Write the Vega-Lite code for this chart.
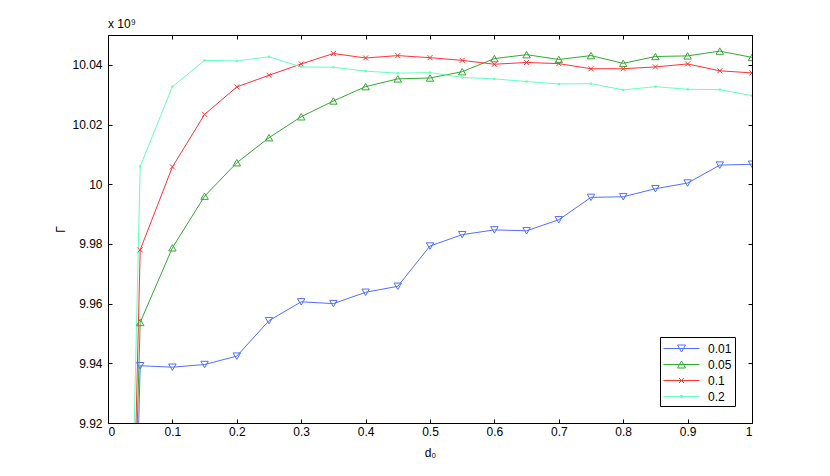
{
  "$schema": "https://vega.github.io/schema/vega-lite/v6.json",
  "width": 644,
  "height": 388,
  "autosize": "none",
  "padding": {"left": 108, "top": 35, "right": 78, "bottom": 53},
  "background": "white",
  "title": {"text": "x 10⁹", "anchor": "start", "frame": "group", "fontSize": 12, "fontWeight": "normal", "font": "Liberation Sans", "color": "#000", "offset": 4},
  "data": {"values": [
    {"d0": 0, "G": 9.53, "s": "0.01"}, {"d0": 0.05, "G": 9.9392, "s": "0.01"}, {"d0": 0.1, "G": 9.9387, "s": "0.01"}, {"d0": 0.15, "G": 9.9396, "s": "0.01"}, {"d0": 0.2, "G": 9.9424, "s": "0.01"}, {"d0": 0.25, "G": 9.9543, "s": "0.01"}, {"d0": 0.3, "G": 9.9606, "s": "0.01"}, {"d0": 0.35, "G": 9.96, "s": "0.01"}, {"d0": 0.4, "G": 9.9638, "s": "0.01"}, {"d0": 0.45, "G": 9.9658, "s": "0.01"}, {"d0": 0.5, "G": 9.9793, "s": "0.01"}, {"d0": 0.55, "G": 9.9831, "s": "0.01"}, {"d0": 0.6, "G": 9.9847, "s": "0.01"}, {"d0": 0.65, "G": 9.9844, "s": "0.01"}, {"d0": 0.7, "G": 9.9881, "s": "0.01"}, {"d0": 0.75, "G": 9.9956, "s": "0.01"}, {"d0": 0.8, "G": 9.9958, "s": "0.01"}, {"d0": 0.85, "G": 9.9985, "s": "0.01"}, {"d0": 0.9, "G": 10.0004, "s": "0.01"}, {"d0": 0.95, "G": 10.0064, "s": "0.01"}, {"d0": 1.0, "G": 10.0067, "s": "0.01"},
    {"d0": 0, "G": 9.58, "s": "0.05"}, {"d0": 0.05, "G": 9.9537, "s": "0.05"}, {"d0": 0.1, "G": 9.9787, "s": "0.05"}, {"d0": 0.15, "G": 9.996, "s": "0.05"}, {"d0": 0.2, "G": 10.0072, "s": "0.05"}, {"d0": 0.25, "G": 10.0156, "s": "0.05"}, {"d0": 0.3, "G": 10.0226, "s": "0.05"}, {"d0": 0.35, "G": 10.0279, "s": "0.05"}, {"d0": 0.4, "G": 10.0327, "s": "0.05"}, {"d0": 0.45, "G": 10.0353, "s": "0.05"}, {"d0": 0.5, "G": 10.0356, "s": "0.05"}, {"d0": 0.55, "G": 10.0377, "s": "0.05"}, {"d0": 0.6, "G": 10.0421, "s": "0.05"}, {"d0": 0.65, "G": 10.0434, "s": "0.05"}, {"d0": 0.7, "G": 10.0418, "s": "0.05"}, {"d0": 0.75, "G": 10.0431, "s": "0.05"}, {"d0": 0.8, "G": 10.0405, "s": "0.05"}, {"d0": 0.85, "G": 10.0428, "s": "0.05"}, {"d0": 0.9, "G": 10.043, "s": "0.05"}, {"d0": 0.95, "G": 10.0446, "s": "0.05"}, {"d0": 1.0, "G": 10.0425, "s": "0.05"},
    {"d0": 0, "G": 9.53, "s": "0.1"}, {"d0": 0.05, "G": 9.978, "s": "0.1"}, {"d0": 0.1, "G": 10.0058, "s": "0.1"}, {"d0": 0.15, "G": 10.0234, "s": "0.1"}, {"d0": 0.2, "G": 10.0326, "s": "0.1"}, {"d0": 0.25, "G": 10.0365, "s": "0.1"}, {"d0": 0.3, "G": 10.0403, "s": "0.1"}, {"d0": 0.35, "G": 10.0438, "s": "0.1"}, {"d0": 0.4, "G": 10.0423, "s": "0.1"}, {"d0": 0.45, "G": 10.0431, "s": "0.1"}, {"d0": 0.5, "G": 10.0424, "s": "0.1"}, {"d0": 0.55, "G": 10.0415, "s": "0.1"}, {"d0": 0.6, "G": 10.0402, "s": "0.1"}, {"d0": 0.65, "G": 10.0408, "s": "0.1"}, {"d0": 0.7, "G": 10.0404, "s": "0.1"}, {"d0": 0.75, "G": 10.0387, "s": "0.1"}, {"d0": 0.8, "G": 10.0387, "s": "0.1"}, {"d0": 0.85, "G": 10.0393, "s": "0.1"}, {"d0": 0.9, "G": 10.0403, "s": "0.1"}, {"d0": 0.95, "G": 10.038, "s": "0.1"}, {"d0": 1.0, "G": 10.0373, "s": "0.1"},
    {"d0": 0, "G": 9.54, "s": "0.2"}, {"d0": 0.05, "G": 10.006, "s": "0.2"}, {"d0": 0.1, "G": 10.0327, "s": "0.2"}, {"d0": 0.15, "G": 10.0415, "s": "0.2"}, {"d0": 0.2, "G": 10.0413, "s": "0.2"}, {"d0": 0.25, "G": 10.0427, "s": "0.2"}, {"d0": 0.3, "G": 10.0393, "s": "0.2"}, {"d0": 0.35, "G": 10.0392, "s": "0.2"}, {"d0": 0.4, "G": 10.0379, "s": "0.2"}, {"d0": 0.45, "G": 10.0372, "s": "0.2"}, {"d0": 0.5, "G": 10.0374, "s": "0.2"}, {"d0": 0.55, "G": 10.0358, "s": "0.2"}, {"d0": 0.6, "G": 10.0353, "s": "0.2"}, {"d0": 0.65, "G": 10.0344, "s": "0.2"}, {"d0": 0.7, "G": 10.0336, "s": "0.2"}, {"d0": 0.75, "G": 10.0337, "s": "0.2"}, {"d0": 0.8, "G": 10.0316, "s": "0.2"}, {"d0": 0.85, "G": 10.0327, "s": "0.2"}, {"d0": 0.9, "G": 10.0318, "s": "0.2"}, {"d0": 0.95, "G": 10.0317, "s": "0.2"}, {"d0": 1.0, "G": 10.0297, "s": "0.2"}
  ]},
  "layer": [
    {
      "mark": {"type": "line", "clip": true, "strokeWidth": 1},
      "encoding": {
        "x": {"field": "d0", "type": "quantitative", "scale": {"domain": [0, 1], "nice": false},
              "axis": {"orient": "bottom", "title": "d₀", "values": [0,0.1,0.2,0.3,0.4,0.5,0.6,0.7,0.8,0.9,1], "format": ".1~f", "tickSize": -4, "labelPadding": 7, "titlePadding": 10}},
        "y": {"field": "G", "type": "quantitative", "scale": {"domain": [9.92, 10.05], "nice": false, "zero": false},
              "axis": {"orient": "left", "title": "Γ", "values": [9.92,9.94,9.96,9.98,10,10.02,10.04], "format": ".2~f", "tickSize": -4, "labelPadding": 10, "titlePadding": 4}},
        "color": {"field": "s", "type": "nominal", "scale": {"domain": ["0.01","0.05","0.1","0.2"], "range": ["#5070ff","#33aa33","#ff3333","#66ffbb"]},
                  "legend": {"title": null, "orient": "bottom-right", "offset": 17, "symbolSize": 256, "symbolStrokeWidth": 1, "symbolOffset": 10, "labelOffset": 18, "padding": 3, "rowPadding": 1,
                    "strokeColor": "#000", "fillColor": "white", "labelFontSize": 12, "labelFont": "Liberation Sans", "labelColor": "#000",
                    "encode": {"symbols": {"update": {"shape": {"signal": "datum.value === '0.01' ? 'M-2.25,0L2.25,0M-0.5,-0.4375L0.5,-0.4375L0,0.4375Z' : datum.value === '0.05' ? 'M-2.25,0L2.25,0M-0.5,0.4375L0.5,0.4375L0,-0.4375Z' : datum.value === '0.1' ? 'M-2.25,0L2.25,0M-0.3125,-0.3125L0.3125,0.3125M0.3125,-0.3125L-0.3125,0.3125' : 'M-2.25,0L2.25,0M-0.125,-0.125L0.125,-0.125L0.125,0.125L-0.125,0.125Z'"}, "fill": {"value": "transparent"}}}}}}
      }
    },
    {
      "transform": [{"filter": "datum.d0 > 0 && datum.s === '0.01'"}],
      "mark": {"type": "point", "clip": true, "filled": false, "strokeWidth": 1, "opacity": 1, "shape": "triangle-down", "size": 55, "color": "#5070ff"},
      "encoding": {
        "x": {"field": "d0", "type": "quantitative",
              "axis": {"orient": "top", "title": null, "labels": false, "values": [0,0.1,0.2,0.3,0.4,0.5,0.6,0.7,0.8,0.9,1], "tickSize": -4}},
        "y": {"field": "G", "type": "quantitative",
              "axis": {"orient": "right", "title": null, "labels": false, "values": [9.92,9.94,9.96,9.98,10,10.02,10.04], "tickSize": -4}}
      }
    },
    {
      "transform": [{"filter": "datum.d0 > 0 && datum.s === '0.05'"}],
      "mark": {"type": "point", "clip": true, "filled": false, "strokeWidth": 1, "opacity": 1, "shape": "triangle-up", "size": 55, "color": "#33aa33"},
      "encoding": {
        "x": {"field": "d0", "type": "quantitative", "axis": null},
        "y": {"field": "G", "type": "quantitative", "axis": null}
      }
    },
    {
      "transform": [{"filter": "datum.d0 > 0 && datum.s === '0.1'"}],
      "mark": {"type": "point", "clip": true, "filled": false, "strokeWidth": 1, "opacity": 1, "shape": "M-1,-1L1,1M1,-1L-1,1", "size": 25, "color": "#ff3333"},
      "encoding": {
        "x": {"field": "d0", "type": "quantitative", "axis": null},
        "y": {"field": "G", "type": "quantitative", "axis": null}
      }
    },
    {
      "transform": [{"filter": "datum.d0 > 0 && datum.s === '0.2'"}],
      "mark": {"type": "point", "clip": true, "filled": true, "opacity": 1, "shape": "square", "size": 5, "color": "#66ffbb"},
      "encoding": {
        "x": {"field": "d0", "type": "quantitative", "axis": null},
        "y": {"field": "G", "type": "quantitative", "axis": null}
      }
    }
  ],
  "config": {
    "view": {"stroke": "#000", "strokeWidth": 1},
    "axis": {"grid": false, "domain": false, "tickColor": "#000", "labelColor": "#000", "titleColor": "#000", "labelFont": "Liberation Sans", "titleFont": "Liberation Sans", "labelFontSize": 12, "titleFontSize": 12, "titleFontWeight": "normal"},
    "legend": {"cornerRadius": 0}
  }
}
